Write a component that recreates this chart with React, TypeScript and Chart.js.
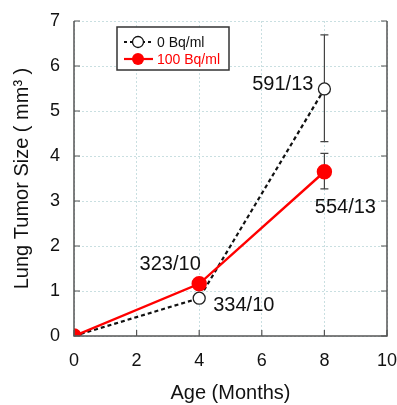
import React, { useEffect, useRef } from "react";
import { Chart, registerables } from "chart.js";
Chart.register(...registerables);

const ages = [0, 4, 8];
const ctrlValues = [0, 0.84, 5.49];
const ctrlErrLow = [0, 0.84, 4.32];
const ctrlErrHigh = [0, 0.84, 6.69];
const treatValues = [0, 1.16, 3.65];
const treatErrLow = [0, 1.16, 3.27];
const treatErrHigh = [0, 1.16, 4.06];
const ctrlLabels = ["", "334/10", "591/13"];
const treatLabels = ["", "323/10", "554/13"];
const seriesNames = ["0 Bq/ml", "100 Bq/ml"];
const xTicks = [0, 2, 4, 6, 8, 10];
const yTicks = [0, 1, 2, 3, 4, 5, 6, 7];

const FONT = "'Liberation Sans', Arial, sans-serif";

const customPlugin = {
  id: "custom",
  beforeDatasetsDraw(chart: any) {
    const { ctx, scales } = chart;
    const x = scales.x, y = scales.y;
    ctx.save();
    ctx.strokeStyle = "#444";
    ctx.lineWidth = 1.2;
    const drawErr = (lo: number[], hi: number[]) => {
      ages.forEach((a, i) => {
        if (hi[i] === lo[i]) return;
        const px = x.getPixelForValue(a);
        const py1 = y.getPixelForValue(lo[i]);
        const py2 = y.getPixelForValue(hi[i]);
        ctx.beginPath();
        ctx.moveTo(px, py1); ctx.lineTo(px, py2);
        ctx.moveTo(px - 4, py1); ctx.lineTo(px + 4, py1);
        ctx.moveTo(px - 4, py2); ctx.lineTo(px + 4, py2);
        ctx.stroke();
      });
    };
    drawErr(ctrlErrLow, ctrlErrHigh);
    drawErr(treatErrLow, treatErrHigh);
    ctx.restore();
  },
  afterDraw(chart: any) {
    const { ctx, scales, chartArea } = chart;
    const x = scales.x, y = scales.y;
    ctx.save();
    ctx.strokeStyle = "#555";
    ctx.lineWidth = 1.5;
    ctx.beginPath();
    ctx.moveTo(chartArea.left, chartArea.top);
    ctx.lineTo(chartArea.left, chartArea.bottom);
    ctx.lineTo(chartArea.right, chartArea.bottom);
    ctx.lineTo(chartArea.right, chartArea.top);
    ctx.stroke();
    ctx.lineWidth = 1.2;
    ctx.beginPath();
    yTicks.forEach((t) => {
      const py = y.getPixelForValue(t);
      ctx.moveTo(chartArea.left, py); ctx.lineTo(chartArea.left + 6, py);
      ctx.moveTo(chartArea.right, py); ctx.lineTo(chartArea.right - 6, py);
    });
    xTicks.forEach((t) => {
      const px = x.getPixelForValue(t);
      ctx.moveTo(px, chartArea.bottom); ctx.lineTo(px, chartArea.bottom - 6);
    });
    ctx.stroke();

    ctx.fillStyle = "#111";
    ctx.font = `20px ${FONT}`;
    ctx.textBaseline = "middle";
    ctx.textAlign = "right";
    ctx.fillText(ctrlLabels[2], x.getPixelForValue(ages[2]) - 11, y.getPixelForValue(ctrlValues[2]) - 4);
    ctx.textAlign = "center";
    ctx.fillText(treatLabels[2], x.getPixelForValue(ages[2]) + 21, y.getPixelForValue(treatValues[2]) + 36);
    ctx.fillText(treatLabels[1], x.getPixelForValue(ages[1]) - 29, y.getPixelForValue(treatValues[1]) - 19);
    ctx.textAlign = "left";
    ctx.fillText(ctrlLabels[1], x.getPixelForValue(ages[1]) + 14, y.getPixelForValue(ctrlValues[1]) + 7);

    const lx = 117, ly = 27, lw = 112, lh = 43;
    ctx.fillStyle = "#fff";
    ctx.fillRect(lx, ly, lw, lh);
    ctx.strokeStyle = "#333";
    ctx.lineWidth = 1.5;
    ctx.strokeRect(lx, ly, lw, lh);
    ctx.font = `14px ${FONT}`;
    ctx.textAlign = "left";
    let ry = 42;
    ctx.strokeStyle = "#111";
    ctx.lineWidth = 1.8;
    ctx.setLineDash([3, 3]);
    ctx.beginPath(); ctx.moveTo(124, ry); ctx.lineTo(153, ry); ctx.stroke();
    ctx.setLineDash([]);
    ctx.beginPath(); ctx.arc(138, ry, 5.5, 0, Math.PI * 2);
    ctx.fillStyle = "#fff"; ctx.fill(); ctx.lineWidth = 1.3; ctx.stroke();
    ctx.fillStyle = "#111";
    ctx.fillText(seriesNames[0], 157, ry + 1);
    ry = 59;
    ctx.strokeStyle = "#f00";
    ctx.lineWidth = 2.2;
    ctx.beginPath(); ctx.moveTo(124, ry); ctx.lineTo(153, ry); ctx.stroke();
    ctx.beginPath(); ctx.arc(138, ry, 6, 0, Math.PI * 2);
    ctx.fillStyle = "#f00"; ctx.fill();
    ctx.fillText(seriesNames[1], 157, ry + 1);
    ctx.restore();
  },
};

export default function App() {
  const ref = useRef<HTMLCanvasElement>(null);
  useEffect(() => {
    const chart = new Chart(ref.current!, {
      type: "line",
      data: {
        datasets: [
          {
            label: seriesNames[1],
            data: ages.map((a, i) => ({ x: a, y: treatValues[i] })),
            borderColor: "#f00",
            backgroundColor: "#f00",
            borderWidth: 2.4,
            pointRadius: 6.5,
            pointBackgroundColor: "#f00",
            pointBorderColor: "#f00",
            order: 0,
          },
          {
            label: seriesNames[0],
            data: ages.map((a, i) => ({ x: a, y: ctrlValues[i] })),
            borderColor: "#111",
            backgroundColor: "#fff",
            borderWidth: 2.2,
            borderDash: [4, 3],
            pointRadius: 6,
            pointBorderWidth: 1.3,
            pointBackgroundColor: "#fff",
            pointBorderColor: "#222",
            order: 1,
          },
        ],
      },
      options: {
        animation: false,
        responsive: false,
        layout: { padding: { left: 0, right: 10, top: 21, bottom: 0 } },
        plugins: { legend: { display: false }, tooltip: { enabled: false } },
        scales: {
          x: {
            type: "linear",
            min: 0,
            max: 10,
            afterBuildTicks: (s: any) => { s.ticks = xTicks.map((v) => ({ value: v })); },
            afterFit: (s: any) => { s.height = 69; s.paddingRight = 0; s.paddingLeft = 0; },
            border: { display: false, dash: [2, 2] },
            grid: { color: "#c9dfe1", lineWidth: 1, drawTicks: false },
            ticks: { color: "#111", font: { size: 18, family: FONT }, padding: 14 },
            title: { display: true, text: "Age (Months)", color: "#111", font: { size: 20, family: FONT }, padding: { top: 6, bottom: 0 } },
          },
          y: {
            type: "linear",
            min: 0,
            max: 7,
            afterBuildTicks: (s: any) => { s.ticks = yTicks.map((v) => ({ value: v })); },
            afterFit: (s: any) => { s.width = 74; s.paddingTop = 0; s.paddingBottom = 0; },
            border: { display: false, dash: [2, 2] },
            grid: { color: "#c9dfe1", lineWidth: 1, drawTicks: false },
            ticks: { color: "#111", font: { size: 18, family: FONT }, padding: 14 },
            title: { display: true, text: "Lung Tumor Size ( mm\u00B3 )", color: "#111", font: { size: 20, family: FONT }, padding: { top: 10, bottom: 0 } },
          },
        },
      },
      plugins: [customPlugin],
    } as any);
    return () => chart.destroy();
  }, []);
  return (
    <div style={{ position: "fixed", left: 0, top: 0, width: 397, height: 405, background: "#fff" }}>
      <canvas ref={ref} width={397} height={405} style={{ width: 397, height: 405 }} />
    </div>
  );
}
